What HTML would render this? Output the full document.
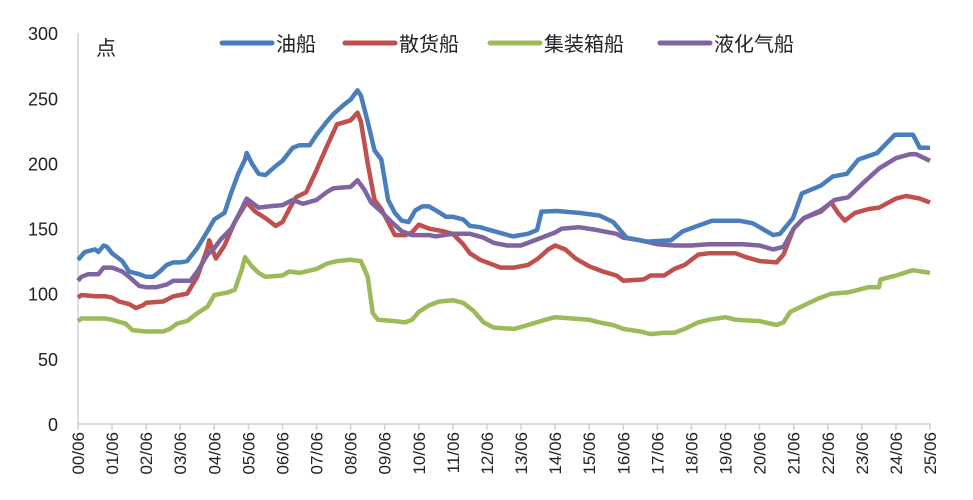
<!DOCTYPE html><html><head><meta charset="utf-8"><style>body{margin:0;background:#fff}svg{display:block}text{font-family:"Liberation Sans","Noto Sans CJK SC",sans-serif;fill:#222}</style></head><body>
<svg id="s" width="973" height="500" xmlns="http://www.w3.org/2000/svg"></svg>
<script>
const s=document.getElementById('s');let h='';
const X0=78,XW=34.08,Y0=424,YK=1.303;
const X=t=>X0+t*XW,Y=v=>Y0-v*YK;
h+=`<line x1="78" y1="33" x2="78" y2="424" stroke="#d0d0d0" stroke-width="1.5"/><line x1="78" y1="424" x2="931" y2="424" stroke="#d0d0d0" stroke-width="1.5"/>`;
for(let v=0;v<=300;v+=50)h+=`<text x="58" y="${Y(v)+7}" font-size="18" text-anchor="end">${v}</text>`;
for(let i=0;i<=25;i++){const x=X(i);h+=`<line x1="${x}" y1="424" x2="${x}" y2="430" stroke="#d0d0d0" stroke-width="1.5"/>`;
const l=String(i).padStart(2,'0')+'/06';h+=`<text transform="translate(${x+6},432) rotate(-90)" font-size="17" text-anchor="end">${l}</text>`;}
const D={
"#4a7ebb":[0,126,.2,132,.5,134,.6,132,.75,137,.85,136,1,131,1.3,125,1.5,117,1.8,115,2,113,2.2,113,2.4,117,2.6,122,2.8,124,3,124,3.2,125,3.5,135,3.8,148,4,157,4.3,162,4.5,178,4.7,192,4.9,203,4.95,208,5.1,200,5.3,192,5.5,191,5.8,198,6,202,6.3,212,6.5,214,6.8,214,7,222,7.3,232,7.5,238,7.8,245,8,249,8.2,256,8.3,252,8.5,232,8.7,210,8.9,203,9.1,172,9.3,162,9.5,156,9.7,155,9.9,164,10.1,167,10.3,167,10.5,164,10.8,159,11,159,11.3,157,11.5,152,11.8,151,12.2,148,12.76,144,13.2,146,13.47,149,13.6,163,14.05,163.5,14.7,162,15.3,160,15.7,155,16.1,143,16.7,140,17.4,141,17.75,148,18.6,156,19.4,156,19.8,154,20.4,145,20.6,146,20.98,158,21.24,177,21.8,183,22.15,190,22.56,192,22.9,203,23.45,208,23.97,222,24.5,222,24.7,212,25,212],
"#c0504d":[0,97,.1,99,.5,98,.8,98,1,97,1.2,94,1.5,92,1.7,89,1.9,91,2,93,2.5,94,2.8,98,3,99,3.2,100,3.5,113,3.8,135,3.85,141,4,130,4.05,127,4.3,137,4.6,155,4.95,170,5.2,163,5.5,158,5.8,152,6,155,6.2,165,6.4,174,6.7,178,7,195,7.3,213,7.6,230,8,233,8.2,239,8.3,232,8.5,200,8.7,172,8.9,165,9.1,155,9.3,145,9.6,145,9.8,147,10,153,10.3,150,10.7,148,11,146,11.3,138,11.5,131,11.8,126,12.1,123,12.4,120,12.8,120,13.2,122,13.5,127,13.8,134,14,137,14.3,134,14.6,127,15,121,15.4,117,15.8,114,16,110,16.6,111,16.8,114,17.2,114,17.5,119,17.8,122,18.2,130,18.5,131,19.3,131,19.6,128,20,125,20.5,124,20.7,130,21,150,21.3,158,21.8,163,22.1,170,22.3,162,22.5,156,22.8,162,23.2,165,23.5,166,24,173,24.3,175,24.7,173,25,170],
"#9bbb59":[0,79,.1,81,.5,81,.8,81,1,80,1.4,77,1.6,72,2,71,2.5,71,2.7,73,2.9,77,3.2,79,3.5,85,3.8,90,4,99,4.4,101,4.6,103,4.8,118,4.9,128,5.1,121,5.3,116,5.5,113,6,114,6.2,117,6.5,116,7,119,7.3,123,7.6,125,8,126,8.3,125,8.5,113,8.65,85,8.8,80,9.3,79,9.6,78,9.8,80,10,86,10.3,91,10.6,94,11,95,11.3,93,11.6,87,11.9,78,12.2,74,12.8,73,13.2,76,13.7,80,14,82,14.5,81,15,80,15.3,78,15.7,76,16,73,16.5,71,16.8,69,17.2,70,17.5,70,17.8,73,18.2,78,18.5,80,19,82,19.3,80,20,79,20.5,76,20.7,78,20.9,86,21.3,91,21.7,96,22.1,100,22.6,101,22.9,103,23.2,105,23.5,105,23.55,111,24,114,24.5,118,25,116],
"#8064a2":[0,110,.1,113,.3,115,.6,115,.75,120,1,120,1.3,117,1.5,113,1.8,106,2,105,2.3,105,2.6,107,2.8,110,3.3,110,3.5,117,3.8,130,4,135,4.2,142,4.5,150,4.8,165,4.95,173,5.2,168,5.3,166,5.6,167,6,168,6.3,172,6.6,169,7,172,7.3,178,7.5,181,8,182,8.2,187,8.4,180,8.6,170,8.9,163,9.2,155,9.5,148,9.8,145,10.3,145,10.5,144,11,146,11.5,146,11.9,143,12.2,139,12.6,137,13,137,13.5,142,14,147,14.2,150,14.7,151,15.2,149,15.8,146,16,143,16.5,141,17,138,17.5,137,18,137,18.5,138,19.5,138,20,137,20.4,134,20.7,136,21,150,21.3,158,21.8,164,22.2,172,22.6,174,23,184,23.5,196,24,204,24.4,207,24.6,207,25,202]};
const order=["#9bbb59","#c0504d","#8064a2","#4a7ebb"];
for(const c of order){const a=D[c];let p='';for(let i=0;i<a.length;i+=2)p+=(i?'L':'M')+X(a[i]).toFixed(1)+','+Y(a[i+1]).toFixed(1);
h+=`<path d="${p}" fill="none" stroke="${c}" stroke-width="4.5" stroke-linejoin="round"/>`;}
h+=`<text x="96" y="55" font-size="20">点</text>`;
const L=[[222,"#4a7ebb","油船"],[345,"#c0504d","散货船"],[490,"#9bbb59","集装箱船"],[660,"#8064a2","液化气船"]];
for(const[x,c,t]of L)h+=`<line x1="${x}" y1="43" x2="${x+50}" y2="43" stroke="${c}" stroke-width="5" stroke-linecap="round"/><text x="${x+54}" y="51" font-size="20">${t}</text>`;
s.innerHTML=h;
</script></body></html>
